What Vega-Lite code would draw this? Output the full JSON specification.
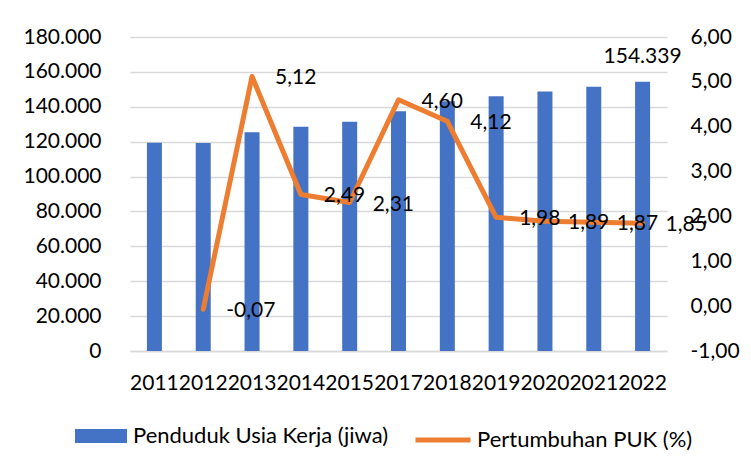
{
  "$schema": "https://vega.github.io/schema/vega-lite/v6.json",
  "width": 537,
  "height": 314,
  "autosize": {"type": "none"},
  "padding": {"left": 130, "top": 37, "right": 84, "bottom": 118},
  "background": "white",
  "config": {
    "locale": {"number": {"decimal": ",", "thousands": ".", "grouping": [3], "currency": ["", ""], "minus": "-"}},
    "view": {"stroke": null},
    "font": "Lato",
    "axis": {"labelFont": "Lato", "labelFontSize": 21, "labelColor": "#000000", "ticks": false, "domain": false, "title": null}
  },
  "data": {"values": [
    {"year": "2011", "puk": 119338, "growth": null},
    {"year": "2012", "puk": 119254, "growth": -0.07},
    {"year": "2013", "puk": 125359, "growth": 5.12},
    {"year": "2014", "puk": 128481, "growth": 2.49},
    {"year": "2015", "puk": 131449, "growth": 2.31},
    {"year": "2017", "puk": 137497, "growth": 4.60},
    {"year": "2018", "puk": 143162, "growth": 4.12},
    {"year": "2019", "puk": 145996, "growth": 1.98},
    {"year": "2020", "puk": 148755, "growth": 1.89},
    {"year": "2021", "puk": 151536, "growth": 1.87},
    {"year": "2022", "puk": 154339, "growth": 1.85}
  ]},
  "encoding": {
    "x": {"field": "year", "type": "ordinal", "scale": {"paddingInner": 0, "paddingOuter": 0},
      "axis": {"labelAngle": 0, "labelPadding": 21, "domain": true, "domainColor": "#d9d9d9", "domainWidth": 1.5}}
  },
  "layer": [
    {
      "mark": {"type": "bar", "size": 15},
      "encoding": {
        "y": {"field": "puk", "type": "quantitative", "scale": {"domain": [0, 180000], "nice": false},
          "axis": {"values": [0, 20000, 40000, 60000, 80000, 100000, 120000, 140000, 160000, 180000], "format": ",.0f", "grid": true, "gridColor": "#d9d9d9", "gridWidth": 1.5, "labelPadding": 29}},
        "fill": {"datum": "Penduduk Usia Kerja (jiwa)", "type": "nominal", "scale": {"range": ["#4472C4"]},
          "legend": {"title": null, "orient": "none", "legendX": -55, "legendY": 373, "symbolType": "M-1,-0.27L1,-0.27L1,0.27L-1,0.27Z", "symbolSize": 2704, "symbolStrokeWidth": 0, "labelFontSize": 22, "labelFont": "Lato", "labelColor": "#000000", "labelOffset": 6, "labelLimit": 500}}
      }
    },
    {
      "mark": {"type": "text", "fontSize": 21, "font": "Lato", "color": "#000000", "baseline": "middle", "dy": -25},
      "transform": [{"filter": "datum.year == '2022'"}],
      "encoding": {
        "y": {"field": "puk", "type": "quantitative", "scale": {"domain": [0, 180000], "nice": false}, "axis": null},
        "text": {"field": "puk", "type": "quantitative", "format": ",.0f"}
      }
    },
    {
      "layer": [
        {
          "mark": {"type": "line", "strokeWidth": 5, "strokeCap": "round", "strokeJoin": "round"},
          "encoding": {
            "stroke": {"datum": "Pertumbuhan PUK (%)", "type": "nominal", "scale": {"range": ["#ED7D31"]},
              "legend": {"title": null, "orient": "none", "legendX": 283, "legendY": 373, "symbolType": "stroke", "symbolSize": 3025, "symbolStrokeWidth": 5, "labelFontSize": 22, "labelFont": "Lato", "labelColor": "#000000", "labelOffset": 4, "labelLimit": 500}}
          }
        },
        {
          "mark": {"type": "text", "fontSize": 21, "font": "Lato", "color": "#000000", "align": "left", "baseline": "middle", "dx": 23, "dy": 2},
          "encoding": {"text": {"field": "growth", "type": "quantitative", "format": ".2f"}}
        }
      ],
      "encoding": {
        "y": {"field": "growth", "type": "quantitative", "scale": {"domain": [-1, 6], "nice": false},
          "axis": {"orient": "right", "values": [-1, 0, 1, 2, 3, 4, 5, 6], "format": ".2f", "grid": false, "labelPadding": 23}}
      }
    }
  ],
  "resolve": {"scale": {"y": "independent"}}
}
